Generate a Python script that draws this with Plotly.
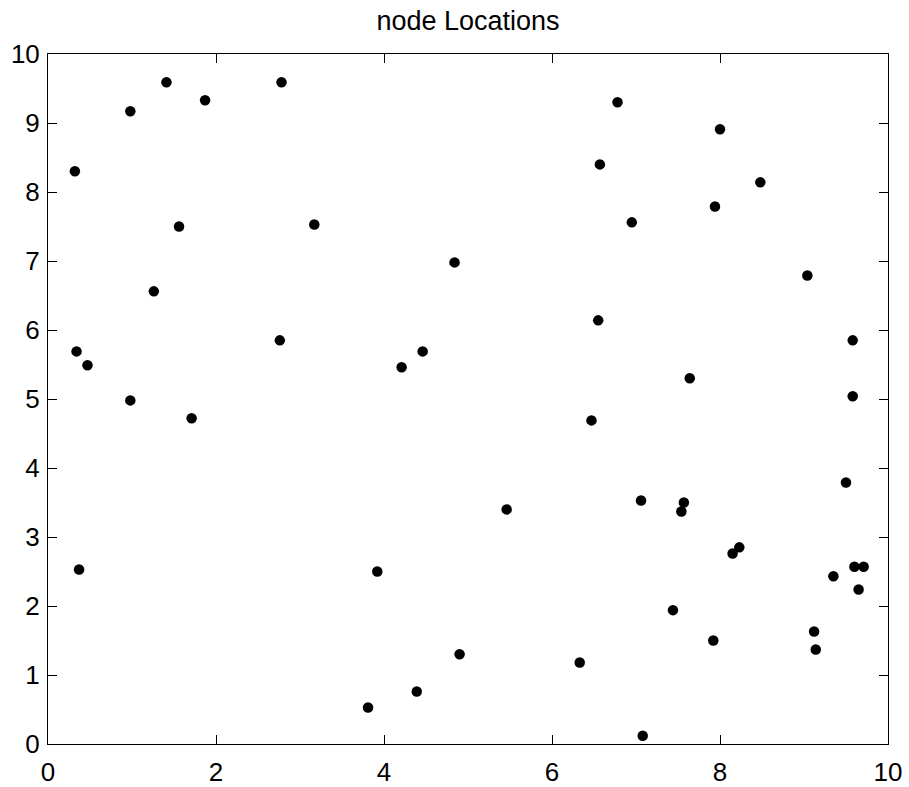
import plotly.graph_objects as go

# Node coordinates (x, y) in the 10 x 10 field
node_x = [0.32, 0.98, 1.41, 1.87, 2.78, 6.78, 8.00, 6.57, 8.48,
          1.56, 3.17, 4.84, 1.26, 2.76, 0.34, 0.47, 4.21, 4.46, 0.98, 1.71,
          0.37, 3.92, 7.94, 6.95, 9.04, 6.55, 9.58, 7.64, 9.58, 6.47,
          9.50, 5.46, 7.06, 7.57, 7.54, 8.23, 8.15, 9.60, 9.71, 9.35, 9.65,
          7.44, 7.92, 9.12, 9.14, 4.90, 6.33, 4.39, 3.81, 7.08]
node_y = [8.30, 9.17, 9.59, 9.33, 9.59, 9.30, 8.91, 8.40, 8.14,
          7.50, 7.53, 6.98, 6.56, 5.85, 5.69, 5.49, 5.46, 5.69, 4.98, 4.72,
          2.53, 2.50, 7.79, 7.56, 6.79, 6.14, 5.85, 5.30, 5.04, 4.69,
          3.79, 3.40, 3.53, 3.50, 3.37, 2.85, 2.76, 2.57, 2.57, 2.43, 2.24,
          1.94, 1.50, 1.63, 1.37, 1.30, 1.18, 0.76, 0.53, 0.12]

x_ticks = [0, 2, 4, 6, 8, 10]
y_ticks = list(range(0, 11))

FONT = "Liberation Sans, Arial, sans-serif"

fig = go.Figure(
    go.Scatter(
        x=node_x, y=node_y, mode="markers",
        marker=dict(color="black", size=10.5, line=dict(width=0)),
        showlegend=False,
    )
)

axis_common = dict(
    showline=True, linecolor="black", linewidth=1, mirror="ticks",
    ticks="inside", ticklen=9, tickwidth=1, tickcolor="black",
    showgrid=False, zeroline=False, automargin=False,
    tickfont=dict(family=FONT, size=26, color="black"),
)

fig.update_xaxes(range=[0, 10], tickvals=x_ticks, ticklabelstandoff=5, **axis_common)
fig.update_yaxes(range=[0, 10], tickvals=y_ticks, ticklabelstandoff=2, **axis_common)

fig.update_layout(
    width=909, height=787,
    margin=dict(l=48, r=21, t=54, b=43),
    paper_bgcolor="white", plot_bgcolor="white",
    title=dict(
        text="node Locations", xref="paper", x=0.5, xanchor="center",
        y=1 - 21 / 787, yanchor="middle",
        font=dict(family=FONT, size=27, color="black"),
    ),
)

fig.write_html("out.html")
